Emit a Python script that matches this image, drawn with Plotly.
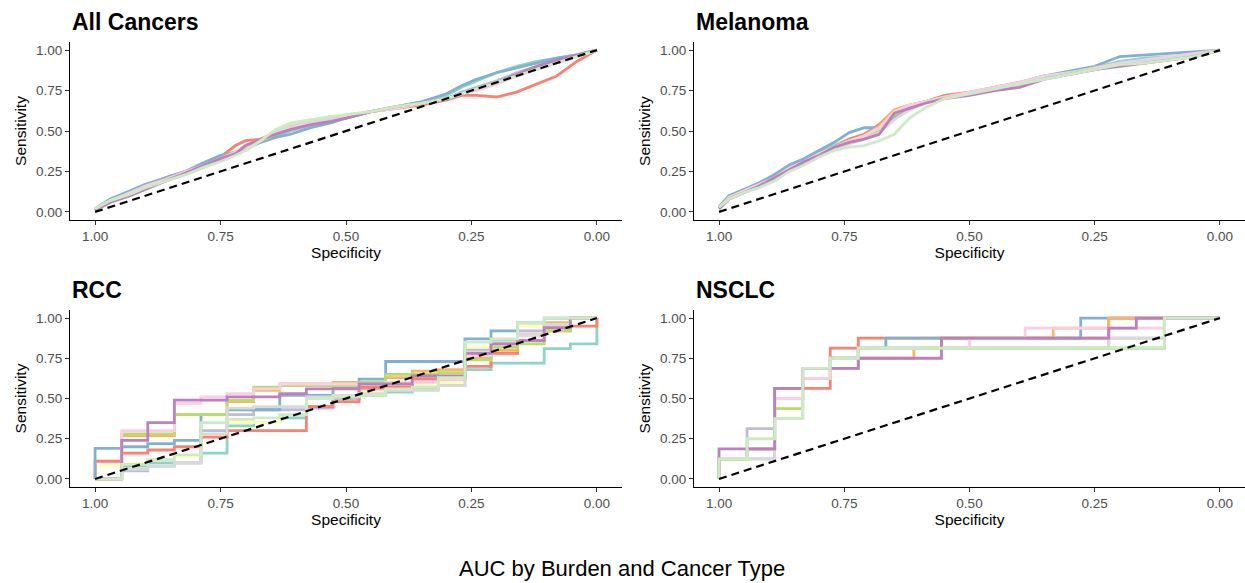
import plotly.graph_objects as go

# ---------------- data ----------------
SERIES = ["s1", "s2", "s3", "s4", "s5", "s6", "s7", "s8", "s9", "s10", "s11"]
COLORS = ["#8DD3C7", "#FFFFB3", "#BEBADA", "#FB8072", "#80B1D3", "#FDB462",
          "#B3DE69", "#FCCDE5", "#D9D9D9", "#BC80BD", "#CCEBC5"]
PANEL_TITLES = ["All Cancers", "Melanoma", "RCC", "NSCLC"]
TICK_VALS = [0, 0.25, 0.5, 0.75, 1.0]
TICK_TEXT = ["0.00", "0.25", "0.50", "0.75", "1.00"]

# All Cancers: shared specificity grid, sensitivity per series
AC_SPEC = [1.00, 0.97, 0.93, 0.90, 0.86, 0.82, 0.78, 0.75, 0.72, 0.70, 0.67, 0.64, 0.61, 0.57,
           0.53, 0.50, 0.45, 0.40, 0.35, 0.30, 0.27, 0.24, 0.20, 0.16, 0.12, 0.08, 0.04, 0.00]
AC_SENS = {
    "s1":  [0.01, 0.07, 0.12, 0.16, 0.20, 0.25, 0.30, 0.34, 0.37, 0.40, 0.44, 0.47, 0.50, 0.53, 0.56, 0.59, 0.62, 0.65, 0.68, 0.72, 0.77, 0.81, 0.86, 0.90, 0.93, 0.95, 0.97, 1.00],
    "s2":  [0.01, 0.06, 0.11, 0.15, 0.20, 0.24, 0.29, 0.33, 0.37, 0.40, 0.45, 0.50, 0.54, 0.56, 0.58, 0.60, 0.62, 0.65, 0.67, 0.70, 0.73, 0.76, 0.80, 0.85, 0.89, 0.93, 0.96, 1.00],
    "s3":  [0.01, 0.06, 0.11, 0.15, 0.19, 0.24, 0.28, 0.32, 0.36, 0.40, 0.44, 0.48, 0.51, 0.54, 0.56, 0.59, 0.62, 0.65, 0.67, 0.70, 0.74, 0.77, 0.81, 0.86, 0.90, 0.94, 0.97, 1.00],
    "s4":  [0.01, 0.07, 0.12, 0.16, 0.21, 0.25, 0.30, 0.34, 0.41, 0.44, 0.45, 0.49, 0.52, 0.55, 0.57, 0.58, 0.62, 0.64, 0.66, 0.69, 0.72, 0.72, 0.71, 0.74, 0.79, 0.84, 0.93, 1.00],
    "s5":  [0.02, 0.08, 0.13, 0.17, 0.21, 0.25, 0.31, 0.35, 0.37, 0.39, 0.43, 0.46, 0.48, 0.52, 0.55, 0.58, 0.62, 0.65, 0.68, 0.73, 0.78, 0.82, 0.86, 0.89, 0.92, 0.95, 0.97, 1.00],
    "s6":  [0.01, 0.07, 0.11, 0.16, 0.20, 0.24, 0.29, 0.33, 0.37, 0.40, 0.44, 0.48, 0.52, 0.55, 0.57, 0.59, 0.62, 0.64, 0.67, 0.70, 0.73, 0.76, 0.80, 0.85, 0.89, 0.93, 0.96, 1.00],
    "s7":  [0.01, 0.06, 0.11, 0.15, 0.19, 0.24, 0.29, 0.33, 0.36, 0.40, 0.45, 0.49, 0.53, 0.55, 0.57, 0.59, 0.62, 0.65, 0.67, 0.70, 0.73, 0.76, 0.80, 0.85, 0.89, 0.93, 0.96, 1.00],
    "s8":  [0.01, 0.07, 0.12, 0.16, 0.20, 0.25, 0.29, 0.33, 0.37, 0.41, 0.45, 0.49, 0.52, 0.55, 0.57, 0.59, 0.62, 0.64, 0.67, 0.70, 0.73, 0.75, 0.79, 0.84, 0.88, 0.92, 0.96, 1.00],
    "s9":  [0.01, 0.06, 0.10, 0.15, 0.19, 0.23, 0.28, 0.32, 0.36, 0.39, 0.44, 0.50, 0.54, 0.56, 0.58, 0.60, 0.62, 0.65, 0.67, 0.70, 0.73, 0.76, 0.80, 0.84, 0.88, 0.92, 0.96, 1.00],
    "s10": [0.01, 0.06, 0.10, 0.14, 0.19, 0.24, 0.29, 0.33, 0.36, 0.41, 0.45, 0.48, 0.51, 0.54, 0.56, 0.58, 0.62, 0.65, 0.67, 0.70, 0.73, 0.76, 0.80, 0.85, 0.90, 0.94, 0.97, 1.00],
    "s11": [0.02, 0.07, 0.11, 0.15, 0.19, 0.23, 0.28, 0.31, 0.35, 0.38, 0.44, 0.51, 0.55, 0.57, 0.59, 0.60, 0.62, 0.65, 0.67, 0.70, 0.73, 0.76, 0.80, 0.84, 0.88, 0.92, 0.96, 1.00],
}

# Melanoma
MEL_SPEC = [1.00, 0.98, 0.95, 0.92, 0.89, 0.86, 0.83, 0.80, 0.77, 0.74, 0.71, 0.68, 0.65, 0.62,
            0.59, 0.55, 0.50, 0.45, 0.40, 0.35, 0.30, 0.25, 0.20, 0.15, 0.10, 0.05, 0.00]
MEL_SENS = {
    "s1":  [0.03, 0.10, 0.13, 0.17, 0.22, 0.28, 0.32, 0.37, 0.41, 0.45, 0.48, 0.52, 0.60, 0.65, 0.68, 0.71, 0.73, 0.76, 0.80, 0.84, 0.86, 0.89, 0.93, 0.95, 0.96, 0.98, 1.00],
    "s2":  [0.02, 0.09, 0.12, 0.16, 0.20, 0.26, 0.30, 0.35, 0.39, 0.43, 0.46, 0.51, 0.60, 0.65, 0.68, 0.71, 0.73, 0.76, 0.79, 0.83, 0.86, 0.89, 0.91, 0.93, 0.95, 0.97, 1.00],
    "s3":  [0.02, 0.08, 0.12, 0.16, 0.21, 0.26, 0.31, 0.36, 0.40, 0.44, 0.46, 0.50, 0.58, 0.64, 0.68, 0.71, 0.73, 0.76, 0.79, 0.83, 0.86, 0.89, 0.92, 0.94, 0.95, 0.97, 1.00],
    "s4":  [0.02, 0.09, 0.13, 0.16, 0.21, 0.27, 0.31, 0.36, 0.40, 0.45, 0.48, 0.54, 0.63, 0.66, 0.68, 0.72, 0.74, 0.77, 0.80, 0.83, 0.86, 0.88, 0.91, 0.93, 0.95, 0.97, 1.00],
    "s5":  [0.03, 0.10, 0.14, 0.18, 0.23, 0.29, 0.33, 0.38, 0.43, 0.49, 0.52, 0.52, 0.58, 0.65, 0.68, 0.71, 0.73, 0.77, 0.80, 0.84, 0.87, 0.90, 0.96, 0.97, 0.98, 0.99, 1.00],
    "s6":  [0.02, 0.09, 0.13, 0.16, 0.21, 0.27, 0.31, 0.36, 0.40, 0.44, 0.47, 0.53, 0.63, 0.66, 0.68, 0.71, 0.73, 0.76, 0.79, 0.83, 0.85, 0.88, 0.91, 0.92, 0.94, 0.96, 1.00],
    "s7":  [0.02, 0.08, 0.12, 0.16, 0.20, 0.26, 0.30, 0.35, 0.39, 0.43, 0.46, 0.51, 0.60, 0.65, 0.68, 0.71, 0.73, 0.76, 0.79, 0.83, 0.86, 0.89, 0.92, 0.93, 0.95, 0.97, 1.00],
    "s8":  [0.02, 0.09, 0.13, 0.17, 0.21, 0.27, 0.31, 0.36, 0.40, 0.44, 0.47, 0.52, 0.62, 0.66, 0.68, 0.71, 0.74, 0.77, 0.80, 0.84, 0.86, 0.89, 0.92, 0.94, 0.96, 0.98, 1.00],
    "s9":  [0.02, 0.08, 0.12, 0.15, 0.20, 0.25, 0.30, 0.34, 0.39, 0.42, 0.45, 0.49, 0.57, 0.63, 0.67, 0.71, 0.73, 0.76, 0.79, 0.83, 0.86, 0.88, 0.91, 0.93, 0.95, 0.97, 1.00],
    "s10": [0.02, 0.08, 0.12, 0.16, 0.21, 0.26, 0.31, 0.35, 0.40, 0.43, 0.45, 0.48, 0.61, 0.64, 0.67, 0.70, 0.72, 0.75, 0.77, 0.82, 0.85, 0.88, 0.90, 0.92, 0.94, 0.96, 1.00],
    "s11": [0.03, 0.08, 0.12, 0.15, 0.19, 0.25, 0.29, 0.34, 0.38, 0.40, 0.41, 0.44, 0.48, 0.58, 0.64, 0.70, 0.73, 0.76, 0.79, 0.82, 0.85, 0.88, 0.91, 0.92, 0.94, 0.96, 1.00],
}

# RCC: step curves (spec where each level ends, sensitivity level)
RCC_SPEC = {
    "s1":  [1, 0.947, 0.895, 0.789, 0.737, 0.684, 0.632, 0.579, 0.526, 0.474, 0.421, 0.368, 0.316, 0.263, 0.211, 0.105, 0.053, 0, 0],
    "s2":  [1, 0.947, 0.895, 0.842, 0.789, 0.737, 0.632, 0.579, 0.474, 0.421, 0.316, 0.263, 0.211, 0.158, 0.105, 0],
    "s3":  [1, 0.947, 0.895, 0.842, 0.789, 0.737, 0.684, 0.579, 0.526, 0.474, 0.368, 0.263, 0.211, 0.158, 0.105, 0.053, 0],
    "s4":  [1, 0.947, 0.895, 0.842, 0.789, 0.737, 0.579, 0.526, 0.474, 0.368, 0.263, 0.211, 0.158, 0.105, 0.053, 0, 0],
    "s5":  [1, 0.947, 0.895, 0.842, 0.789, 0.737, 0.632, 0.526, 0.474, 0.421, 0.263, 0.211, 0.158, 0.105, 0],
    "s6":  [1, 0.947, 0.842, 0.737, 0.684, 0.632, 0.526, 0.421, 0.368, 0.316, 0.263, 0.211, 0.158, 0.105, 0.053, 0],
    "s7":  [1, 0.947, 0.842, 0.737, 0.684, 0.632, 0.474, 0.421, 0.316, 0.263, 0.211, 0.158, 0.105, 0.053, 0],
    "s8":  [1, 0.947, 0.842, 0.789, 0.737, 0.684, 0.632, 0.421, 0.316, 0.263, 0.211, 0.158, 0.105, 0.053, 0],
    "s9":  [1, 0.947, 0.895, 0.842, 0.789, 0.737, 0.684, 0.579, 0.474, 0.421, 0.316, 0.263, 0.211, 0.158, 0.105, 0.053, 0],
    "s10": [1, 0.947, 0.895, 0.842, 0.737, 0.632, 0.579, 0.474, 0.368, 0.263, 0.211, 0.158, 0.105, 0.053, 0],
    "s11": [1, 0.947, 0.895, 0.842, 0.789, 0.737, 0.684, 0.632, 0.579, 0.526, 0.421, 0.368, 0.316, 0.263, 0.211, 0.158, 0.105, 0],
}
RCC_SENS = {
    "s1":  [0, 0, 0.08, 0.10, 0.16, 0.33, 0.35, 0.38, 0.45, 0.50, 0.52, 0.54, 0.56, 0.58, 0.68, 0.72, 0.81, 0.84, 1.00],
    "s2":  [0, 0.08, 0.10, 0.12, 0.14, 0.27, 0.35, 0.40, 0.50, 0.55, 0.58, 0.60, 0.82, 0.87, 0.95, 1.00],
    "s3":  [0, 0, 0.05, 0.08, 0.10, 0.30, 0.40, 0.43, 0.44, 0.50, 0.56, 0.63, 0.80, 0.86, 0.92, 0.97, 1.00],
    "s4":  [0, 0.11, 0.16, 0.18, 0.20, 0.26, 0.30, 0.45, 0.48, 0.57, 0.62, 0.70, 0.78, 0.86, 0.92, 0.95, 1.00],
    "s5":  [0, 0.19, 0.20, 0.22, 0.24, 0.40, 0.43, 0.52, 0.57, 0.62, 0.73, 0.87, 0.92, 0.97, 1.00],
    "s6":  [0, 0, 0.27, 0.40, 0.48, 0.55, 0.59, 0.60, 0.63, 0.67, 0.68, 0.75, 0.80, 0.90, 0.97, 1.00],
    "s7":  [0, 0, 0.28, 0.40, 0.49, 0.57, 0.58, 0.60, 0.65, 0.66, 0.74, 0.82, 0.84, 0.92, 1.00],
    "s8":  [0, 0, 0.30, 0.47, 0.51, 0.53, 0.56, 0.59, 0.60, 0.62, 0.77, 0.84, 0.89, 0.95, 1.00],
    "s9":  [0, 0, 0.06, 0.08, 0.10, 0.28, 0.44, 0.45, 0.51, 0.53, 0.55, 0.58, 0.79, 0.85, 0.90, 0.96, 1.00],
    "s10": [0, 0, 0.24, 0.35, 0.49, 0.51, 0.53, 0.56, 0.59, 0.64, 0.78, 0.84, 0.86, 0.94, 1.00],
    "s11": [0, 0, 0.09, 0.12, 0.15, 0.35, 0.37, 0.38, 0.40, 0.50, 0.52, 0.56, 0.57, 0.63, 0.85, 0.87, 0.97, 1.00],
}

# NSCLC: step curves
NSCLC_SPEC = {
    "s1":  [1, 0.944, 0.889, 0.833, 0.778, 0.722, 0.111, 0],
    "s2":  [1, 0.944, 0.889, 0.833, 0.778, 0.722, 0.111, 0],
    "s3":  [1, 0.944, 0.889, 0.833, 0.778, 0.722, 0.222, 0.111, 0],
    "s4":  [1, 0.944, 0.889, 0.833, 0.778, 0.722, 0.278, 0.222, 0],
    "s5":  [1, 0.944, 0.889, 0.833, 0.778, 0.722, 0.667, 0.278, 0],
    "s6":  [1, 0.944, 0.889, 0.833, 0.778, 0.722, 0.611, 0.556, 0.333, 0.222, 0],
    "s7":  [1, 0.944, 0.889, 0.833, 0.778, 0.722, 0.111, 0],
    "s8":  [1, 0.944, 0.889, 0.833, 0.778, 0.722, 0.500, 0.389, 0.111, 0],
    "s9":  [1, 0.944, 0.889, 0.833, 0.778, 0.722, 0.222, 0.111, 0],
    "s10": [1, 0.944, 0.889, 0.833, 0.722, 0.556, 0.222, 0.167, 0],
    "s11": [1, 0.944, 0.889, 0.833, 0.778, 0.722, 0.111, 0],
}
NSCLC_SENS = {
    "s1":  [0, 0.125, 0.125, 0.5, 0.6875, 0.75, 0.8125, 1.0],
    "s2":  [0, 0.125, 0.25, 0.4375, 0.6875, 0.75, 0.875, 1.0],
    "s3":  [0, 0.125, 0.3125, 0.375, 0.6875, 0.75, 0.8125, 0.875, 1.0],
    "s4":  [0, 0.125, 0.1875, 0.5625, 0.5625, 0.8125, 0.875, 0.875, 1.0],
    "s5":  [0, 0.125, 0.1875, 0.5, 0.6875, 0.75, 0.8125, 0.875, 1.0],
    "s6":  [0, 0.125, 0.1875, 0.5, 0.625, 0.6875, 0.75, 0.8125, 0.875, 0.9375, 1.0],
    "s7":  [0, 0.125, 0.1875, 0.4375, 0.625, 0.75, 0.8125, 1.0],
    "s8":  [0, 0.125, 0.1875, 0.5, 0.625, 0.75, 0.8125, 0.875, 0.9375, 1.0],
    "s9":  [0, 0.125, 0.125, 0.375, 0.6875, 0.6875, 0.8125, 0.875, 1.0],
    "s10": [0, 0.1875, 0.1875, 0.5625, 0.6875, 0.75, 0.875, 0.9375, 1.0],
    "s11": [0, 0.125, 0.25, 0.375, 0.6875, 0.75, 0.8125, 1.0],
}

DIAG_SPEC = [1.0, 0.0]
DIAG_SENS = [0.0, 1.0]

# ---------------- figure ----------------
W, H = 1245, 583
FONT = "Liberation Sans, Arial, Helvetica, sans-serif"

# panel boxes in pixels: (left, right, top, bottom)
BOXES = [(70, 622, 42, 220), (694, 1245, 42, 220),
         (70, 622, 310, 487), (694, 1245, 310, 487)]

fig = go.Figure()

panels = [
    ({k: AC_SPEC for k in SERIES}, AC_SENS, "linear"),
    ({k: MEL_SPEC for k in SERIES}, MEL_SENS, "linear"),
    (RCC_SPEC, RCC_SENS, "vh"),
    (NSCLC_SPEC, NSCLC_SENS, "vh"),
]

for p, (specs, sens, shape) in enumerate(panels):
    xa = "x" if p == 0 else f"x{p+1}"
    ya = "y" if p == 0 else f"y{p+1}"
    for name, col in zip(SERIES, COLORS):
        fig.add_trace(go.Scatter(x=specs[name], y=sens[name], mode="lines",
                                 line=dict(color=col, width=2.8, shape=shape),
                                 xaxis=xa, yaxis=ya, showlegend=False, hoverinfo="skip"))
    fig.add_trace(go.Scatter(x=DIAG_SPEC, y=DIAG_SENS, mode="lines",
                             line=dict(color="black", width=2.2, dash="8px,5px"),
                             xaxis=xa, yaxis=ya, showlegend=False, hoverinfo="skip"))

layout = dict(width=W, height=H, margin=dict(l=0, r=0, t=0, b=0),
              paper_bgcolor="white", plot_bgcolor="white",
              font=dict(family=FONT, color="#222222"), annotations=[])

for p, (l, r, t, b) in enumerate(BOXES):
    xk = "xaxis" if p == 0 else f"xaxis{p+1}"
    yk = "yaxis" if p == 0 else f"yaxis{p+1}"
    ax_anchor_x = "y" if p == 0 else f"y{p+1}"
    ax_anchor_y = "x" if p == 0 else f"x{p+1}"
    common = dict(showline=True, linecolor="black", linewidth=1.2, mirror=False,
                  showgrid=False, zeroline=False, ticks="outside", ticklen=4,
                  tickwidth=1, tickcolor="#333333", tickvals=TICK_VALS, ticktext=TICK_TEXT,
                  tickfont=dict(size=13.5, color="#4D4D4D", family=FONT))
    layout[xk] = dict(common, domain=[l / W, r / W], range=[1.05, -0.05], anchor=ax_anchor_x,
                      title=dict(text="Specificity", font=dict(size=15.5, color="black"), standoff=3))
    layout[yk] = dict(common, domain=[1 - b / H, 1 - t / H], range=[-0.05, 1.05], anchor=ax_anchor_y,
                      title=dict(text="Sensitivity", font=dict(size=15.5, color="black"), standoff=5))
    layout["annotations"].append(dict(
        text=f"<b>{PANEL_TITLES[p]}</b>", xref="paper", yref="paper",
        x=l / W, y=1 - (t - 20) / H, xanchor="left", yanchor="middle",
        showarrow=False, font=dict(size=23, color="black", family=FONT)))

layout["annotations"].append(dict(
    text="AUC by Burden and Cancer Type", xref="paper", yref="paper",
    x=622 / W, y=1 - 568 / H, xanchor="center", yanchor="middle",
    showarrow=False, font=dict(size=22, color="black", family=FONT)))

fig.update_layout(**layout)
fig.write_html("out.html")
